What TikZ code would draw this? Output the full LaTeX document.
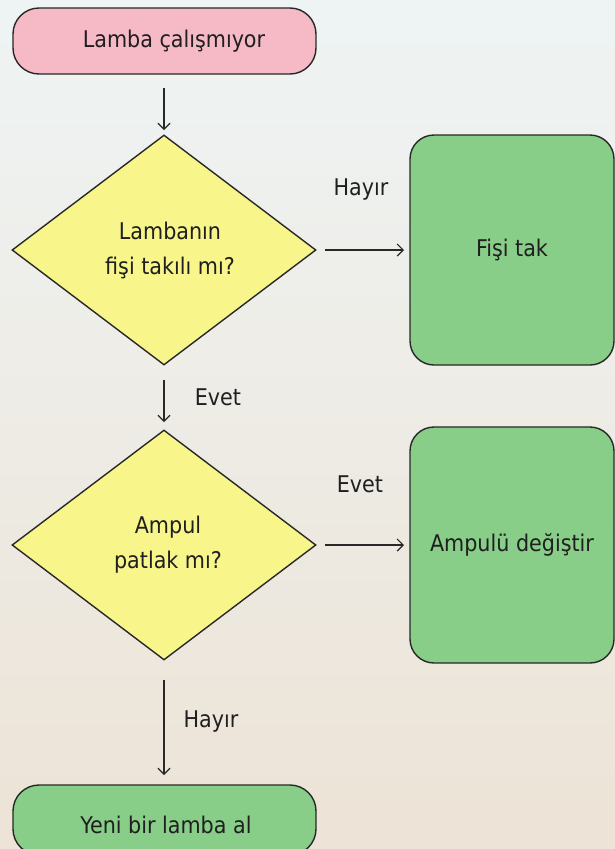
\documentclass[tikz,border=0pt]{standalone}
\usepackage{fontspec}
\setmainfont{DejaVu Sans Condensed}
\usetikzlibrary{shapes.geometric,arrows.meta}
\definecolor{bgtop}{RGB}{238,244,244}
\definecolor{bgbot}{RGB}{237,227,214}
\definecolor{pinkfill}{RGB}{246,185,198}
\definecolor{yellowfill}{RGB}{248,246,138}
\definecolor{greenfill}{RGB}{136,205,136}
\definecolor{edge}{RGB}{40,40,40}
\tikzset{
  x=1pt, y=-1pt,
  every node/.style={font=\fontsize{23}{35}\selectfont, text=black!88},
  term/.style={draw=edge, line width=1.4pt, rounded corners=26pt, minimum width=303pt, minimum height=66pt, inner sep=0pt},
  decision/.style={draw=edge, line width=1.4pt, diamond, fill=yellowfill, minimum width=304pt, minimum height=230pt, aspect=1.32, inner sep=0pt, align=center},
  action/.style={draw=edge, line width=1.4pt, fill=greenfill, rounded corners=24pt, minimum width=204pt, inner sep=0pt, align=center},
  conn/.style={draw=edge, line width=1.2pt, -{Straight Barb[length=6pt,width=12pt,line width=1.2pt]}},
  lbl/.style={font=\fontsize{23}{28}\selectfont}
}
\begin{document}
\begin{tikzpicture}
\useasboundingbox (0,0) rectangle (615,849);
\shade[top color=bgtop, bottom color=bgbot] (0,0) rectangle (615,849);
\clip (0,0) rectangle (615,849);
\node[term, fill=pinkfill] (start) at (164.5,41) {};
\node (starttext) at (174,41) {Lamba çalışmıyor};
\node[decision] (d1) at (164,250) {};
\node[align=center] (d1text) at (170,250) {Lambanın\\fişi takılı mı?};
\node[action, minimum height=230pt] (fis) at (512,250) {Fişi tak};
\node[decision] (d2) at (164,545) {};
\node[align=center] (d2text) at (168,545) {Ampul\\patlak mı?};
\node[action, minimum height=236pt] (amp) at (512,545) {Ampulü değiştir};
\node[term, fill=greenfill, minimum height=70pt] (end) at (164.5,820) {};
\node (endtext) at (166,825) {Yeni bir lamba al};
\coordinate (a1s) at (164,88);
\coordinate (a1e) at (164,130);
\draw[conn] (a1s) -- (a1e);
\coordinate (h1s) at (325,250);
\coordinate (h1e) at (404,250);
\draw[conn] (h1s) -- (h1e);
\node[lbl] (hayir1) at (361,190) {Hayır};
\coordinate (e1s) at (164,380);
\coordinate (e1e) at (164,422);
\draw[conn] (e1s) -- (e1e);
\node[lbl] (evet1) at (218,397) {Evet};
\coordinate (e2s) at (325,545);
\coordinate (e2e) at (404,545);
\draw[conn] (e2s) -- (e2e);
\node[lbl] (evet2) at (360,484) {Evet};
\coordinate (h2s) at (164,680);
\coordinate (h2e) at (164,775);
\draw[conn] (h2s) -- (h2e);
\node[lbl] (hayir2) at (211,721) {Hayır};
\end{tikzpicture}
\end{document}
